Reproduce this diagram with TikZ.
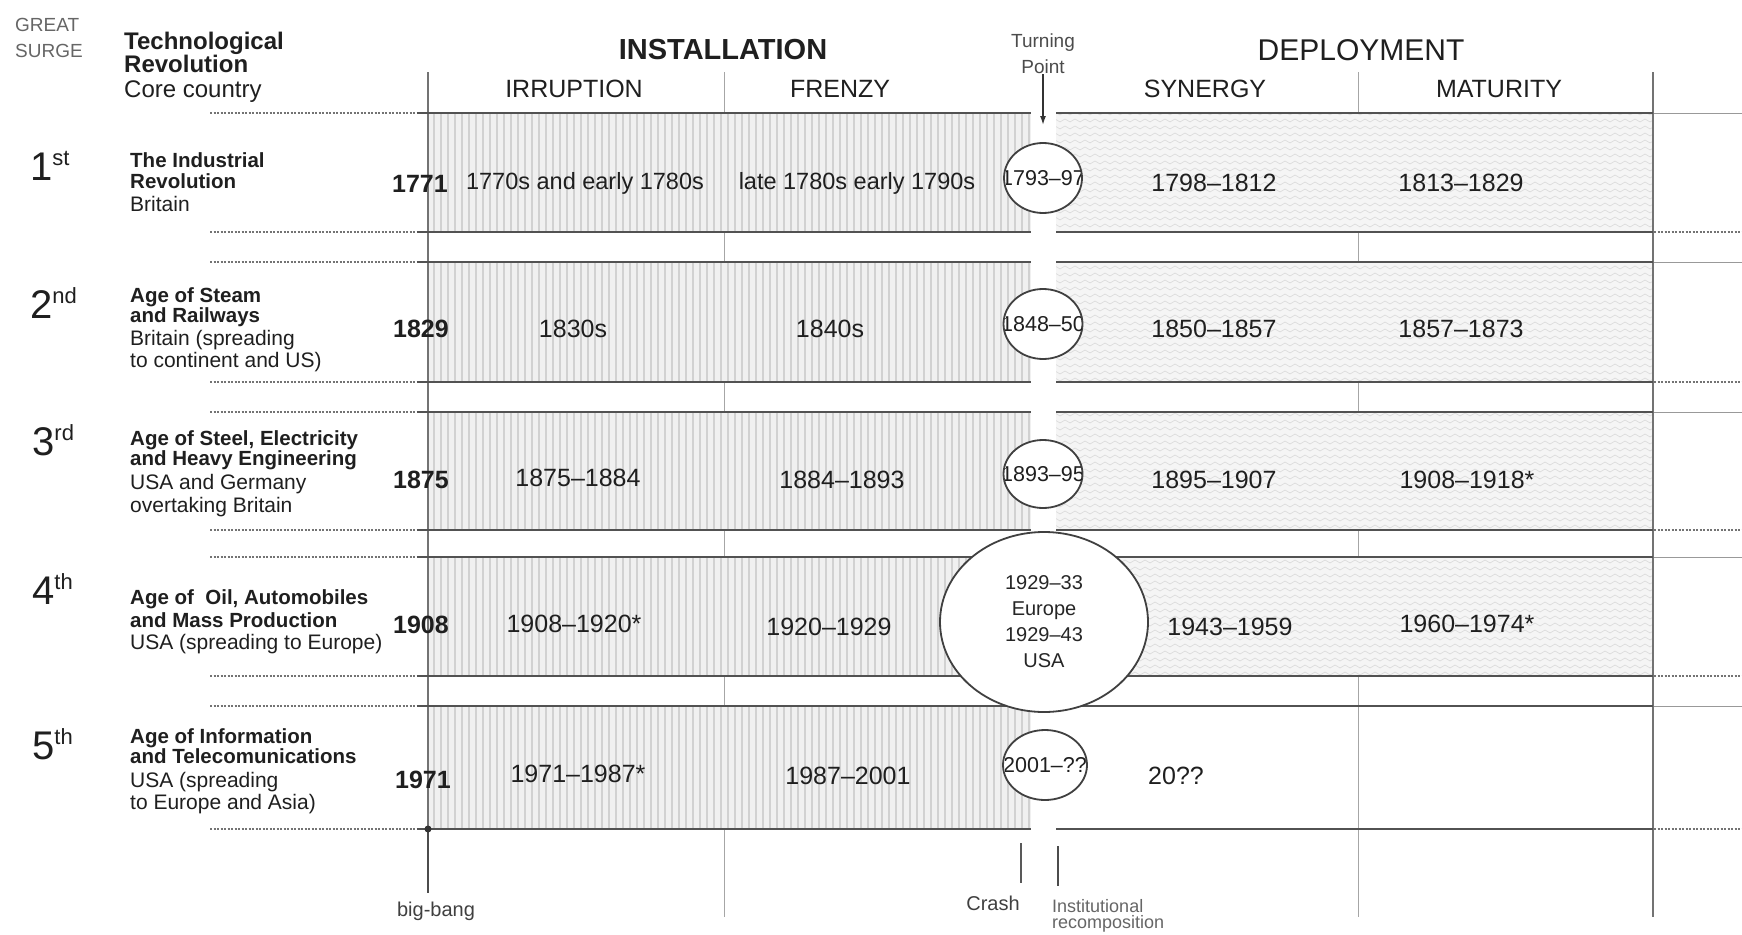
\documentclass[tikz,border=0pt]{standalone}
\usepackage{fontspec}
\setmainfont{Liberation Sans}
\usetikzlibrary{shapes.geometric,patterns.meta,arrows.meta}
\newcommand\fsz[1]{\fontsize{#1pt}{#1pt}\selectfont}
\tikzdeclarepattern{
  name=zz,
  type=uncolored,
  bounding box={(-1pt,-1pt) and (11pt,5pt)},
  tile size={(10pt,7pt)},
  code={\draw[line width=0.6pt] (0pt,0pt) -- (5pt,3pt) -- (10pt,0pt);}
}
\begin{document}
\begin{tikzpicture}[x=1pt,y=-1pt,
  txt/.style={inner sep=0pt, text=black!88},
  lbl/.style={txt, anchor=base west, font=\fsz{21}},
  lblb/.style={txt, anchor=base west, font=\fsz{20.5}\bfseries},
  per/.style={txt, font=\fsz{25}},
  phr/.style={txt, font=\fsz{23.5}},
  yr/.style={txt, font=\fsz{25}\bfseries},
  hsub/.style={txt, font=\fsz{25}},
  ord/.style={txt, anchor=base west, font=\fsz{40}},
  tpell/.style={ellipse, draw=black!75, line width=1.8pt, fill=white, inner sep=0pt},
  tptext/.style={txt, font=\fsz{21.5}},
  hline/.style={draw=black!68, line width=2.6pt},
  dotline/.style={draw=black!55, line width=1.3pt, dash pattern=on 2pt off 1.5pt},
  thinline/.style={draw=black!40, line width=1pt},
  vthin/.style={draw=black!35, line width=0.9pt},
  vmed/.style={draw=black!55, line width=1.3pt},
  instfill/.style={preaction={fill=black!6}, pattern={Lines[angle=90,distance=7pt,line width=1.4pt]}, pattern color=black!18},
  depfill/.style={preaction={fill=black!4}, pattern=zz, pattern color=black!15},
  small/.style={txt, font=\fsz{19}, text=black!70}
]
\useasboundingbox (0,0) rectangle (1742,934);
\fill[white] (0,0) rectangle (1742,934);

% thin column separators (under fills)
\draw[vthin] (724,72) -- (724,917);
\draw[vthin] (1358,72) -- (1358,917);

% band fills
\foreach \t/\b in {113/232, 262/382, 412/530, 557/676, 706/829}{
  \path[instfill] (429,\t) rectangle (1031,\b);
}
\foreach \t/\b in {113/232, 262/382, 412/530, 557/676}{
  \path[depfill] (1056,\t) rectangle (1652,\b);
}

% main verticals
\draw[vmed] (428,72) -- (428,829);
\draw[vmed] (1653,72) -- (1653,917);

% horizontal lines
\foreach \y in {113,232,262,382,412,530,557,676,706,829}{
  \draw[dotline] (210,\y) -- (417,\y);
  \draw[hline] (417,\y) -- (1031,\y);
  \draw[hline] (1056,\y) -- (1653,\y);
}
\foreach \y in {232,382,530,676,829}{
  \draw[dotline] (1654,\y) -- (1742,\y);
}
\foreach \y in {113,262,412,557,706}{
  \draw[thinline] (1654,\y) -- (1742,\y);
}

% header texts
\node[txt, anchor=base west, font=\fsz{19}, text=black!60] (great) at (15,32) {GREAT};
\node[txt, anchor=base west, font=\fsz{19}, text=black!60] (surge) at (15,58) {SURGE};
\node[txt, anchor=base west, font=\fsz{24}\bfseries] (techrev1) at (124,50) {Technological};
\node[txt, anchor=base west, font=\fsz{24}\bfseries] (techrev2) at (124,73) {Revolution};
\node[txt, anchor=base west, font=\fsz{24}] (core) at (124,97) {Core country};
\node[txt, font=\fsz{29}\bfseries] (install) at (723,50) {INSTALLATION};
\node[txt, font=\fsz{30}] (deploy) at (1361,50) {DEPLOYMENT};
\node[hsub] (irr) at (574,89) {IRRUPTION};
\node[hsub] (fre) at (840,89) {FRENZY};
\node[hsub] (syn) at (1205,89) {SYNERGY};
\node[hsub] (mat) at (1499,89) {MATURITY};
\node[small] (tp1lab) at (1043,43) {Turning};
\node[small] (tp2lab) at (1043,67) {Point};
\coordinate (arrowend) at (1043,125);
\draw[-{Latex[length=9pt,width=6pt]}, line width=1.5pt, black!80] (tp2lab.south) -- (arrowend);

% ordinals
\node[ord] (o1) at (30,180) {1\raisebox{15pt}{\fsz{22}st}};
\node[ord] (o2) at (30,318) {2\raisebox{15pt}{\fsz{22}nd}};
\node[ord] (o3) at (32,455) {3\raisebox{15pt}{\fsz{22}rd}};
\node[ord] (o4) at (32,604) {4\raisebox{15pt}{\fsz{22}th}};
\node[ord] (o5) at (32,759) {5\raisebox{15pt}{\fsz{22}th}};

% row labels
\node[lblb] (r1a) at (130,167) {The Industrial};
\node[lblb] (r1b) at (130,188) {Revolution};
\node[lbl]  (r1c) at (130,211) {Britain};
\node[lblb] (r2a) at (130,302) {Age of Steam};
\node[lblb] (r2b) at (130,322) {and Railways};
\node[lbl]  (r2c) at (130,345) {Britain (spreading};
\node[lbl]  (r2d) at (130,367) {to continent and US)};
\node[lblb] (r3a) at (130,445) {Age of Steel, Electricity};
\node[lblb] (r3b) at (130,465) {and Heavy Engineering};
\node[lbl]  (r3c) at (130,489) {USA and Germany};
\node[lbl]  (r3d) at (130,512) {overtaking Britain};
\node[lblb] (r4a) at (130,604) {Age of\ \ Oil, Automobiles};
\node[lblb] (r4b) at (130,627) {and Mass Production};
\node[lbl]  (r4c) at (130,649) {USA (spreading to Europe)};
\node[lblb] (r5a) at (130,743) {Age of Information};
\node[lblb] (r5b) at (130,763) {and Telecomunications};
\node[lbl]  (r5c) at (130,787) {USA (spreading};
\node[lbl]  (r5d) at (130,809) {to Europe and Asia)};

% big-bang years
\node[yr] (y1) at (420,184) {1771};
\node[yr] (y2) at (421,329) {1829};
\node[yr] (y3) at (421,480) {1875};
\node[yr] (y4) at (421,625) {1908};
\node[yr] (y5) at (423,780) {1971};

% periods
\node[phr] (p11) at (585,183) {1770s and early 1780s};
\node[phr] (p12) at (857,183) {late 1780s early 1790s};
\node[per] (p13) at (1214,183) {1798--1812};
\node[per] (p14) at (1461,183) {1813--1829};
\node[per] (p21) at (573,329) {1830s};
\node[per] (p22) at (830,329) {1840s};
\node[per] (p23) at (1214,329) {1850--1857};
\node[per] (p24) at (1461,329) {1857--1873};
\node[per] (p31) at (578,478) {1875--1884};
\node[per] (p32) at (842,480) {1884--1893};
\node[per] (p33) at (1214,480) {1895--1907};
\node[per] (p34) at (1467,480) {1908--1918*};
\node[per] (p41) at (574,624) {1908--1920*};
\node[per] (p42) at (829,627) {1920--1929};
\node[per] (p43) at (1230,627) {1943--1959};
\node[per] (p44) at (1467,624) {1960--1974*};
\node[per] (p51) at (578,774) {1971--1987*};
\node[per] (p52) at (848,776) {1987--2001};
\node[per] (p53) at (1176,776) {20??};

% turning point ellipses
\node[tpell, minimum width=78pt, minimum height=70pt] (tp1) at (1043,178) {};
\begin{scope}\clip (1043,178) ellipse [x radius=38, y radius=34];
\node[tptext] (tp1t) at (tp1) {1793--97};\end{scope}
\node[tpell, minimum width=79pt, minimum height=70pt] (tp2) at (1043,324) {};
\begin{scope}\clip (1043,324) ellipse [x radius=38.5, y radius=34];
\node[tptext] (tp2t) at (tp2) {1848--50};\end{scope}
\node[tpell, minimum width=79pt, minimum height=68pt] (tp3) at (1043,474) {};
\begin{scope}\clip (1043,474) ellipse [x radius=38.5, y radius=33];
\node[tptext] (tp3t) at (tp3) {1893--95};\end{scope}
\node[tpell, minimum width=208pt, minimum height=180pt, align=center, font=\fontsize{20pt}{26pt}\selectfont, text=black!85] (tp4) at (1044,622) {1929--33\\Europe\\1929--43\\USA};
\node[tpell, minimum width=84pt, minimum height=70pt] (tp5) at (1045,765) {};
\begin{scope}\clip (1045,765) ellipse [x radius=41, y radius=34];
\node[tptext] (tp5t) at (tp5) {2001--??};\end{scope}

% bottom markers
\coordinate (bbtop) at (428,829);
\coordinate (bbbot) at (428,893);
\draw[line width=2.6pt, black!70] (bbtop) -- (bbbot);
\fill[black!80] (bbtop) circle (3.5);
\node[txt, anchor=base, font=\fsz{20}, text=black!75] (bigbang) at (436,916) {big-bang};

\coordinate (cr1) at (1021,843);
\coordinate (cr2) at (1021,883);
\draw[line width=2.6pt, black!65] (cr1) -- (cr2);
\node[txt, anchor=base, font=\fsz{20}, text=black!75] (crash) at (993,910) {Crash};

\coordinate (ir1) at (1058,846);
\coordinate (ir2) at (1058,886);
\draw[line width=1.8pt, black!70] (ir1) -- (ir2);
\node[txt, anchor=base west, font=\fsz{18}, text=black!60] (inst1) at (1052,912) {Institutional};
\node[txt, anchor=base west, font=\fsz{18}, text=black!60] (inst2) at (1052,928) {recomposition};
\end{tikzpicture}
\end{document}
